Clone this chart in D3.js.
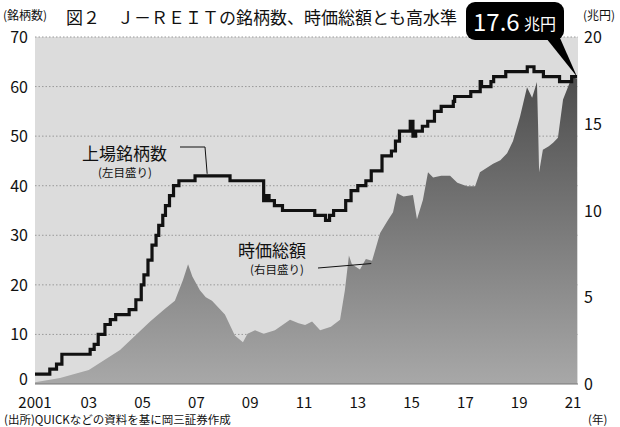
<!DOCTYPE html>
<html><head><meta charset="utf-8">
<script src="https://cdn.jsdelivr.net/npm/d3@7"></script>
<style>body{margin:0;background:#fff}svg{font-family:"Noto Sans CJK JP","Noto Sans",sans-serif}</style>
</head><body><svg id="c" width="620" height="427"></svg>
<script>
const countData = [[2001.0,2],[2001.55,3],[2001.8,4],[2002.0,6],[2003.05,7],[2003.2,8],[2003.35,10],[2003.6,12],[2003.8,13],[2004.0,14],[2004.5,15],[2004.75,17],[2004.95,20],[2005.05,22],[2005.2,25],[2005.35,28],[2005.5,30],[2005.6,32],[2005.75,34],[2005.85,36],[2006.0,38],[2006.15,40],[2006.35,41],[2006.95,42],[2008.25,41],[2009.5,37],[2009.6,38],[2009.7,37],[2009.9,36],[2010.2,35],[2011.4,34],[2011.8,33],[2011.95,34],[2012.1,35],[2012.55,37],[2012.75,39],[2013.0,40],[2013.3,41],[2013.5,43],[2013.9,46],[2014.25,47],[2014.4,49],[2014.55,51],[2014.95,53],[2015.05,50],[2015.15,51],[2015.4,52],[2015.6,53],[2015.85,55],[2016.1,56],[2016.55,57],[2016.6,58],[2017.2,59],[2017.55,61],[2017.6,60],[2017.95,61],[2018.05,62],[2018.5,63],[2019.3,64],[2019.55,63],[2019.9,62],[2020.5,61],[2020.95,62],[2021.15,62]];
const capData = [[2001.0,0.1],[2001.93,0.35],[2003.0,0.8],[2004.16,1.96],[2005.28,3.6],[2005.8,4.3],[2006.2,4.8],[2006.5,6.0],[2006.69,6.9],[2006.85,6.2],[2007.13,5.4],[2007.35,5.0],[2007.58,4.8],[2008.06,4.0],[2008.43,2.8],[2008.73,2.4],[2008.9,2.9],[2009.18,3.1],[2009.5,2.9],[2009.92,3.1],[2010.48,3.7],[2010.8,3.5],[2011.04,3.4],[2011.3,3.6],[2011.6,3.1],[2012.0,3.3],[2012.34,3.7],[2012.52,5.4],[2012.67,7.4],[2012.78,6.9],[2013.08,6.6],[2013.3,7.2],[2013.53,7.1],[2013.83,8.7],[2014.1,9.4],[2014.31,9.9],[2014.46,11.0],[2014.7,10.8],[2015.05,10.9],[2015.2,9.5],[2015.42,10.6],[2015.61,12.2],[2015.8,11.9],[2016.1,12.0],[2016.43,12.0],[2016.7,11.6],[2017.06,11.4],[2017.36,11.4],[2017.54,12.2],[2018.03,12.7],[2018.3,12.9],[2018.55,13.3],[2018.77,14.0],[2019.03,15.4],[2019.29,17.1],[2019.48,16.5],[2019.66,17.4],[2019.7,15.0],[2019.74,12.2],[2019.88,13.5],[2020.1,13.7],[2020.26,13.9],[2020.44,14.2],[2020.63,16.4],[2020.96,17.7],[2021.15,17.6]];
const leftTicks = [0,10,20,30,40,50,60,70];
const rightTicks = [0,5,10,15,20];
const xTicks = [2001,2003,2005,2007,2009,2011,2013,2015,2017,2019,2021];
const xTickLabels = ["2001","03","05","07","09","11","13","15","17","19","21"];

const svg = d3.select("#c");
const L=35,R=578,T=37,B=384;
const x = d3.scaleLinear().domain([2001,2021]).range([L,573]);
const yL = d3.scaleLinear().domain([0,70]).range([B,T]);
const yR = d3.scaleLinear().domain([0,20]).range([B,T]);

const defs = svg.append("defs");
const g = defs.append("linearGradient").attr("id","gr").attr("x1",0).attr("y1",0).attr("x2",0).attr("y2",1);
g.append("stop").attr("offset","0%").attr("stop-color","#4d4d4d");
g.append("stop").attr("offset","100%").attr("stop-color","#a8a8a8");

svg.append("rect").attr("x",L).attr("y",T).attr("width",R-L).attr("height",B-T).attr("fill","#dcdcdc");
svg.append("line").attr("x1",L).attr("x2",R).attr("y1",T).attr("y2",T).attr("stroke","#999").attr("stroke-dasharray","1.5,2");
leftTicks.filter(d=>d>0&&d<70).forEach(d=>svg.append("line").attr("x1",L).attr("x2",R).attr("y1",yL(d)).attr("y2",yL(d)).attr("stroke","#999").attr("stroke-dasharray","1.5,2"));

svg.append("path").datum(capData).attr("fill","url(#gr)")
 .attr("d",d3.area().x(d=>x(d[0])).y0(B).y1(d=>yR(d[1])));
svg.append("line").attr("x1",L).attr("x2",R).attr("y1",B).attr("y2",B).attr("stroke","#777");

svg.append("path").datum(countData).attr("fill","none").attr("stroke","#111").attr("stroke-width",3.2)
 .attr("d",d3.line().curve(d3.curveStepAfter).x(d=>x(d[0])).y(d=>yL(d[1])));

const t=(xx,yy,s,fs,anchor,fill)=>svg.append("text").attr("x",xx).attr("y",yy).attr("font-size",fs).attr("text-anchor",anchor||"start").attr("fill",fill||"#111").text(s);
leftTicks.forEach(d=>t(28,yL(d)+(d===0?1:6),d,16,"end"));
rightTicks.forEach(d=>t(584,yR(d)+6,d,16,"start"));
xTicks.forEach((d,i)=>t(x(d),408,xTickLabels[i],15,"middle"));
t(3,20,"(銘柄数)",12);
t(583,20,"(兆円)",12);
t(66,24,"図２　Ｊ－ＲＥＩＴの銘柄数、時価総額とも高水準",17);
t(4,424,"(出所)QUICKなどの資料を基に岡三証券作成",11.5);
t(588,424,"(年)",11.5);

// labels
t(82,160,"上場銘柄数",17);
t(98,177,"(左目盛り)",11.5);
svg.append("path").attr("d",`M180,147 H205 L${x(2007.4)},${yL(42)-2}`).attr("fill","none").attr("stroke","#111").attr("stroke-width",1);
t(238,257,"時価総額",17);
t(250,274,"(右目盛り)",11.5);
svg.append("path").attr("d",`M318,268 L${x(2013.5)},${yR(7.0)+1}`).attr("fill","none").attr("stroke","#111").attr("stroke-width",1);

// callout
const cx=x(2021.15), cy=yL(62);
svg.append("path").attr("d",`M546,38 L${cx},${cy} L560,38 Z`).attr("fill","#000");
svg.append("rect").attr("x",466).attr("y",2).attr("width",98).attr("height",38).attr("rx",9).attr("fill","#000");
t(473,31,"17.6",24,"start","#fff");
t(524,30,"兆円",16,"start","#fff");
</script></body></html>
